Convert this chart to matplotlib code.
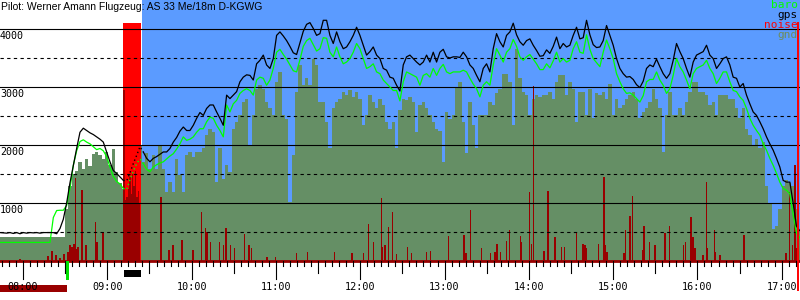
import numpy as np
import matplotlib
matplotlib.use('Agg')
import matplotlib.pyplot as plt
from matplotlib.patches import Rectangle

TITLE = 'Pilot: Werner Amann Flugzeug: AS 33 Me/18m D-KGWG'

# logger: first fix 07:43:36, one fix every ~142 s (times in minutes after midnight)
T0 = 463.6
DT = 2.372

gps = [
    490, 485, 480, 490, 475, 490, 470, 490, 480, 490,
    485, 490, 480, 490, 490, 490, 490, 470, 560, 720,
    1000, 1350, 1650, 1940, 2220, 2290, 2250, 2210, 2180, 2140,
    2100, 2050, 1880, 1710, 1560, 1510, 1450, 1390, 1380, 1520,
    1680, 1820, 1970, 1880, 1770, 1710, 1770, 1800, 1840, 1880,
    1880, 1940, 2050, 2130, 2240, 2310, 2250, 2250, 2340, 2460,
    2560, 2510, 2630, 2690, 2690, 2570, 2460, 2340, 2860, 2800,
    2860, 2920, 3090, 3170, 3210, 3200, 3120, 3400, 3460, 3550,
    3380, 3320, 3490, 3890, 3950, 3880, 3800, 3700, 3590, 3560,
    3760, 3960, 4080, 4110, 4010, 3890, 3920, 4150, 4150, 3890,
    3750, 3950, 3780, 3660, 3690, 3780, 3890, 4030, 3890, 3720,
    3550, 3610, 3690, 3550, 3490, 3320, 3290, 3170, 3150, 3030,
    2930, 3380, 3520, 3550, 3490, 3430, 3380, 3430, 3550, 3430,
    3600, 3430, 3600, 3650, 3520, 3500, 3520, 3520, 3510, 3600,
    3520, 3380, 3320, 3200, 3090, 3320, 3400, 3260, 3660, 3920,
    3780, 3690, 3890, 3950, 4100, 3900, 3780, 3720, 3800, 3830,
    3720, 3630, 3530, 3540, 3640, 3580, 3700, 3860, 3660, 3750,
    3690, 3720, 3890, 4030, 3830, 3850, 4150, 3900, 3730, 3680,
    3690, 3800, 4060, 3890, 3720, 3490, 3320, 3230, 3170, 3180,
    3130, 3040, 2990, 3100, 3320, 3380, 3350, 3480, 3350, 3230,
    3150, 3230, 3460, 3750, 3610, 3490, 3320, 3170, 3430, 3550,
    3580, 3610, 3720, 3550, 3490, 3320, 3400, 3490, 3520, 3380,
    3170, 3150, 3000, 3060, 2860, 2710, 2570, 2510, 2400, 2280,
    2140, 2020, 1910, 1770, 1620, 1390, 1360, 1360, 1000, 600,
    520,
]

baro = [
    320, 320, 320, 320, 320, 320, 320, 320, 320, 320,
    320, 320, 320, 320, 320, 320, 750, 870, 875, 875,
    960, 1250, 1650, 1900, 2060, 2090, 2050, 2020, 1970, 1920,
    1940, 1900, 1800, 1620, 1460, 1370, 1330, 1250, 1230, 1400,
    1550, 1680, 1760, 1680, 1580, 1540, 1620, 1660, 1690, 1710,
    1760, 1810, 1850, 1930, 2020, 2140, 2080, 2100, 2140, 2220,
    2280, 2280, 2400, 2480, 2460, 2340, 2250, 2140, 2690, 2570,
    2710, 2770, 2890, 2940, 2970, 2940, 2860, 3120, 3170, 3150,
    3030, 3120, 3320, 3600, 3650, 3560, 3480, 3380, 3280, 3260,
    3470, 3700, 3800, 3840, 3730, 3620, 3660, 3850, 3840, 3600,
    3520, 3690, 3520, 3400, 3430, 3490, 3600, 3750, 3660, 3490,
    3320, 3350, 3400, 3260, 3230, 3120, 3060, 3000, 2940, 2940,
    2760, 3090, 3260, 3230, 3200, 3170, 3030, 3200, 3230, 3170,
    3320, 3200, 3320, 3390, 3260, 3230, 3260, 3260, 3260, 3290,
    3260, 3150, 3050, 2970, 2830, 3030, 3090, 3030, 3380, 3660,
    3550, 3430, 3600, 3660, 3820, 3700, 3520, 3460, 3520, 3560,
    3480, 3400, 3300, 3300, 3400, 3330, 3450, 3600, 3430, 3490,
    3430, 3460, 3660, 3780, 3600, 3580, 3900, 3650, 3490, 3420,
    3350, 3600, 3810, 3660, 3490, 3230, 3090, 2970, 2890, 2900,
    2860, 2800, 2740, 2850, 3090, 3130, 3130, 3260, 3120, 3030,
    2890, 2970, 3200, 3490, 3350, 3260, 3120, 2970, 3230, 3320,
    3350, 3380, 3460, 3320, 3230, 3060, 3150, 3260, 3260, 3090,
    2940, 2920, 2830, 2770, 2630, 2460, 2340, 2250, 2170, 2020,
    1910, 1770, 1650, 1510, 1360, 1250, 1220, 1160, 800, 480,
    400,
]

gnd = [
    410, 410, 410, 410, 410, 410, 410, 410, 410, 410,
    410, 410, 410, 410, 410, 410, 410, 410, 410, 410,
    900, 1300, 1500, 1560, 1700, 1590, 1760, 1640, 1850, 1880,
    1820, 1760, 1880, 1650, 1930, 1540, 1340, 1250, 1300, 1400,
    1500, 1600, 2000, 1700, 1870, 1590, 1820, 1590, 1990, 1590,
    1190, 1360, 1190, 1760, 1480, 1190, 1820, 1880, 1790, 1880,
    1880, 1940, 2170, 2280, 2230, 1360, 1940, 1420, 1650, 1540,
    2280, 2400, 2510, 2740, 2800, 2000, 2510, 2970, 3030, 2970,
    2740, 2630, 2510, 3090, 3260, 2510, 2450, 1020, 1820, 2920,
    3380, 3030, 3150, 3030, 3490, 3380, 2740, 2740, 2400, 1940,
    2630, 2740, 2800, 2920, 2860, 2940, 2830, 2920, 2800, 2340,
    2510, 2860, 2740, 2630, 2800, 2690, 2400, 2280, 2400, 1940,
    2600, 2800, 2770, 2830, 2740, 2230, 2690, 2740, 2630, 2510,
    2400, 2280, 2250, 1710, 2570, 2450, 2510, 3000, 3090, 2400,
    1870, 2740, 2340, 1940, 2510, 2510, 2510, 2740, 2690, 2890,
    2970, 3230, 3230, 3090, 2340, 3660, 3150, 2920, 2860, 2510,
    2800, 2860, 2830, 2860, 2860, 2920, 2800, 3090, 3200, 3200,
    2860, 3090, 2970, 2400, 2920, 2920, 2510, 2970, 2460, 2890,
    2860, 2920, 2800, 3060, 2510, 2800, 2630, 2690, 2800, 2860,
    2920, 2800, 2460, 2570, 2630, 2740, 2970, 2800, 2630, 1880,
    2510, 2920, 2510, 2510, 2630, 2510, 2740, 2920, 3090, 3090,
    2920, 2920, 2860, 2690, 2740, 2510, 2860, 2860, 2860, 2800,
    2800, 2630, 2460, 2630, 2280, 2170, 2000, 2110, 1940, 2050,
    1300, 1000, 560, 600, 900, 1300, 1400, 1350, 1300, 900,
    500,
]

# engine noise spikes (minute, level)
noise_t = [477.8, 497.8, 500.6, 503.5, 506.3, 509.1, 512.0, 513.4, 514.8, 516.3,
           517.5, 518.4, 519.1, 522.0, 524.8, 531.7, 532.6, 536.9,
           552, 553, 554, 555, 556, 557, 558, 559, 560, 561, 562, 563,
           578.2, 583.9, 586.7, 593.1, 601.0,
           607.1, 610.0, 611.1, 613.6, 619.7, 622.5, 624.4, 627.8, 630.4, 637.5,
           640.8, 642.7, 653.8, 659.8, 674.8, 682.3, 701.5, 714.3, 722.2, 725.7,
           729.3, 735.3, 736.0, 737.6, 740.0, 742.8, 745.9,
           753.5, 756.6, 767.3, 770.1, 782.7, 794.0, 795.3, 798.3, 806.4, 812.8,
           815.9, 817.5, 820.0, 824.0, 826.1, 834.2, 834.9, 840.3, 842.0, 843.2,
           850.8, 853.8, 858.6, 863.4, 865.2, 874.0, 878.7, 880.0, 880.7, 889.4,
           893.5, 894.2, 895.8, 907.7, 908.9, 912.0, 913.6, 921.4, 922.1, 925.7,
           929.8, 936.9, 940.0, 949.9, 951.6, 955.4, 957.0, 958.2, 964.1, 966.3,
           967.0, 972.0, 973.0, 976.0, 993.3, 1023.0, 1025.4, 1027.8, 1029.4, 1030.6]
noise_v = [40, 80, 170, 100, 60, 120, 150, 280, 250, 300,
           1430, 200, 240, 1220, 280, 670, 330, 500,
           2950, 1050, 1100, 1250, 1450, 1150, 1500, 1300, 1550, 1100, 1200, 1000,
           1100, 190, 280, 360, 190,
           845, 570, 500, 330, 330, 280, 570, 280, 220, 470,
           280, 220, 70, 70, 140, 155, 155, 140, 140, 640,
           330, 1090, 240, 280, 590, 845, 120,
           240, 140, 155, 170, 430, 450, 140, 880, 220, 140,
           155, 290, 155, 345, 535, 430, 330, 1190, 290, 3020,
           170, 1210, 415, 240, 240, 500, 290, 280, 220, 290,
           1450, 280, 155, 140, 535, 775, 1120, 190, 600, 330,
           280, 480, 600, 280, 330, 760, 415, 220, 100, 1360,
           220, 535, 155, 100, 450, 140, 1190, 280, 1655, 220]

hours = ['08:00', '09:00', '10:00', '11:00', '12:00', '13:00', '14:00',
         '15:00', '16:00', '17:00']
alt_labels = [1000, 2000, 3000, 4000]

ENGINE = (551.5, 563.9)
TAKEOFF = 511.3
LANDING = 1031.6
XMIN, XMAX = 463.6, 1033.0
YMAX = 4500

BLUE = '#5b9bff'
GND = '#658f65'
DARKRED = '#990000'
MONO = 'DejaVu Sans Mono'

t = T0 + DT * np.arange(len(gps))
gps = np.array(gps, dtype=float)
baro = np.array(baro, dtype=float)
gnd = np.array(gnd, dtype=float)

fig = plt.figure(figsize=(8, 3), dpi=100)
ax = fig.add_axes([0, 39 / 300, 1, 261 / 300])
ax.set_xlim(XMIN, XMAX)
ax.set_ylim(0, YMAX)
ax.set_facecolor('white')
ax.axis('off')

# sky after engine stop
ax.axvspan(564.6, XMAX, color=BLUE, lw=0, zorder=0)
ax.fill_between(t, 0, gnd, step='mid', color=GND, lw=0, zorder=1)
ax.axvspan(ENGINE[0], ENGINE[1], ymax=4100 / YMAX, color='#ff0000', lw=0, zorder=2)
ax.bar(noise_t, noise_v, width=1.05, color=DARKRED, lw=0, zorder=3)

for v in [1000, 2000, 3000, 4000]:
    ax.axhline(v, color='black', lw=0.8, zorder=4)
for v in [500, 1500, 2500, 3500]:
    ax.axhline(v, color='black', lw=0.8, ls=(0, (3, 3)), zorder=4)

# solid outside the engine run, dotted inside
inside = (t > ENGINE[0]) & (t < ENGINE[1])
idx = np.where(inside)[0]
seg = slice(idx[0] - 1, idx[-1] + 2)
for s, c, z in [(baro, '#00ff00', 5), (gps, 'black', 6)]:
    ax.plot(t, np.where(inside, np.nan, s), color=c, lw=0.9, zorder=z)
    ax.plot(t[seg], s[seg], color=c, lw=1.0, ls=(0, (1, 2)), zorder=z)

ax.axhline(0, color=DARKRED, lw=2, zorder=7, clip_on=False)

# marks under the time axis (1 px = YMAX/261 altitude units)
px = YMAX / 261.0
ax.add_patch(Rectangle((XMIN, -31 * px), TAKEOFF - XMIN, 7 * px, color=DARKRED,
                       lw=0, clip_on=False, zorder=7))
ax.add_patch(Rectangle((TAKEOFF - 1.0, -19 * px), 2.1, 19 * px, color='#00e000',
                       lw=0, clip_on=False, zorder=8))
ax.add_patch(Rectangle((ENGINE[0] + 0.4, -16 * px), ENGINE[1] - ENGINE[0] - 0.4,
                       7 * px, color='black', lw=0, clip_on=False, zorder=8))
ax.plot([LANDING, LANDING], [-29 * px, 4100], color='#ff0000', lw=1.4,
        clip_on=False, zorder=8)

# time ticks: 5 min, 30 min, hour
for m in range(465, 1033, 5):
    if m % 60 == 0:
        n = 18
    elif m % 30 == 0:
        n = 12
    else:
        n = 5
    ax.plot([m, m], [0, -n * px], color='black', lw=0.8, clip_on=False, zorder=9)
for i, h in enumerate(hours):
    ax.text(480 + 60 * i, -21.5 * px, h, ha='center', va='top', family=MONO,
            fontsize=7.3, zorder=10, clip_on=False)

for v in alt_labels:
    ax.annotate(str(v), xy=(XMIN, v), xytext=(0, -1.5), textcoords='offset points',
                ha='left', va='top', family=MONO, fontsize=7.2, zorder=10)

fig.text(0.001, 0.995, TITLE, ha='left', va='top', family='Liberation Sans',
         fontsize=7.5)

for i, (name, c) in enumerate([('baro', '#00ff00'), ('gps', 'black'),
                               ('noise', '#ff0000'), ('gnd', '#6e8c5a')]):
    fig.text(798 / 800, 1 - (0.5 + 10 * i) / 300, name, ha='right', va='top',
             family=MONO, fontsize=8, color=c)

fig.savefig('out.png', dpi=100)
